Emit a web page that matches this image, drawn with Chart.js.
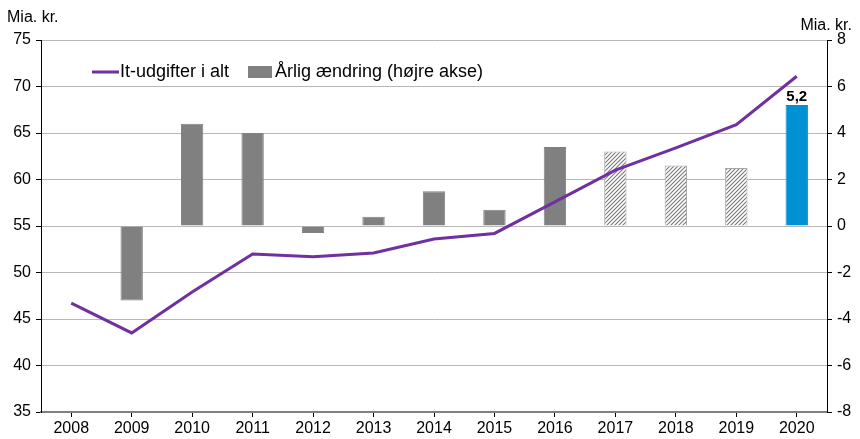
<!DOCTYPE html>
<html lang="da">
<head>
  <meta charset="UTF-8" />
  <title>It-udgifter</title>
  <script src="https://cdn.jsdelivr.net/npm/chart.js"></script>
  <style>
    html, body { margin: 0; padding: 0; background: #fff; }
    #wrap { width: 860px; height: 439px; position: relative; }
  </style>
</head>
<body>
  <div id="wrap"><canvas id="chart" width="860" height="439"></canvas></div>

  <script>
    // Data
    const years = ['2008', '2009', '2010', '2011', '2012', '2013', '2014', '2015', '2016', '2017', '2018', '2019', '2020'];
    const itTotal = [46.7, 43.5, 47.9, 52.0, 51.7, 52.1, 53.6, 54.2, 57.6, 61.0, 63.4, 65.9, 71.1];
    const yearlyChange = [null, -3.2, 4.4, 4.0, -0.3, 0.4, 1.5, 0.7, 3.4, 3.2, 2.6, 2.5, 5.2];
    const estimated = [false, false, false, false, false, false, false, false, false, true, true, true, false];
    const leftTicks = [35, 40, 45, 50, 55, 60, 65, 70, 75];
    const rightTicks = [-8, -6, -4, -2, 0, 2, 4, 6, 8];

    const FONT = 'Liberation Sans, Arial, sans-serif';

    // hatch pattern for the estimated years
    function hatch() {
      const c = document.createElement('canvas');
      c.width = 4; c.height = 4;
      const g = c.getContext('2d');
      g.fillStyle = '#fff';
      g.fillRect(0, 0, 4, 4);
      g.strokeStyle = '#7a7a7a';
      g.lineWidth = 1.1;
      g.beginPath();
      g.moveTo(-1, 5); g.lineTo(5, -1);
      g.moveTo(-1, 1); g.lineTo(1, -1);
      g.moveTo(3, 5); g.lineTo(5, 3);
      g.stroke();
      return g.createPattern(c, 'repeat');
    }
    const pat = hatch();

    const barColors = yearlyChange.map((v, i) => {
      if (i === years.length - 1) return '#0091d5';
      return estimated[i] ? pat : '#808080';
    });
    const barBorders = yearlyChange.map((v, i) => {
      if (i === years.length - 1) return '#0091d5';
      return estimated[i] ? '#a6a6a6' : '#808080';
    });

    const extras = {
      id: 'extras',
      afterDraw(chart) {
        const ctx = chart.ctx;
        ctx.save();
        ctx.fillStyle = '#000';
        ctx.font = '16px ' + FONT;
        ctx.textBaseline = 'middle';
        ctx.textAlign = 'left';
        ctx.fillText('Mia. kr.', 7, 18);
        ctx.textAlign = 'right';
        ctx.fillText('Mia. kr.', 852, 26);

        // legend
        ctx.strokeStyle = '#7030a0';
        ctx.lineWidth = 3;
        ctx.beginPath();
        ctx.moveTo(92, 72); ctx.lineTo(119, 72);
        ctx.stroke();
        ctx.font = '18px ' + FONT;
        ctx.textAlign = 'left';
        ctx.fillStyle = '#000';
        ctx.fillText('It-udgifter i alt', 120, 72);
        ctx.fillStyle = '#808080';
        ctx.fillRect(248, 66, 24, 12);
        ctx.fillStyle = '#000';
        ctx.fillText('Årlig ændring (højre akse)', 275, 72);

        // label on the last bar
        const meta = chart.getDatasetMeta(1);
        const last = meta.data[years.length - 1];
        ctx.font = 'bold 15px ' + FONT;
        ctx.textAlign = 'center';
        ctx.textBaseline = 'bottom';
        ctx.fillText(String(yearlyChange[years.length - 1]).replace('.', ','), last.x, last.y - 1);
        ctx.restore();
      }
    };

    new Chart(document.getElementById('chart'), {
      data: {
        labels: years,
        datasets: [
          {
            type: 'line',
            label: 'It-udgifter i alt',
            data: itTotal,
            yAxisID: 'y',
            borderColor: '#7030a0',
            borderWidth: 3,
            pointRadius: 0,
            tension: 0,
            order: 0
          },
          {
            type: 'bar',
            label: 'Årlig ændring (højre akse)',
            data: yearlyChange,
            yAxisID: 'y1',
            backgroundColor: barColors,
            borderColor: barBorders,
            borderWidth: 1,
            categoryPercentage: 1,
            barPercentage: 0.37,
            order: 1
          }
        ]
      },
      options: {
        responsive: false,
        animation: false,
        layout: { padding: { left: 0, right: 0, top: 40, bottom: 0 } },
        plugins: {
          legend: { display: false },
          tooltip: { enabled: false }
        },
        scales: {
          x: {
            offset: true,
            grid: { offset: false, drawOnChartArea: false, tickLength: 5, tickColor: '#000' },
            border: { color: '#808080', width: 2 },
            ticks: { color: '#000', font: { family: FONT, size: 16 }, padding: 2, maxRotation: 0 },
            afterFit: s => { s.height = 27; }
          },
          y: {
            position: 'left',
            min: 35, max: 75,
            afterBuildTicks: s => { s.ticks = leftTicks.map(v => ({ value: v })); },
            grid: { color: '#b8b8b8', tickColor: '#000', tickLength: 5 },
            border: { color: '#000', width: 1 },
            ticks: { color: '#000', font: { family: FONT, size: 16 }, padding: 5 },
            afterFit: s => { s.width = 41; }
          },
          y1: {
            position: 'right',
            min: -8, max: 8,
            afterBuildTicks: s => { s.ticks = rightTicks.map(v => ({ value: v })); },
            grid: { drawOnChartArea: false, tickColor: '#000', tickLength: 5 },
            border: { color: '#000', width: 1 },
            ticks: { color: '#000', font: { family: FONT, size: 16 }, padding: 5 },
            afterFit: s => { s.width = 33; }
          }
        }
      },
      plugins: [extras]
    });
  </script>
</body>
</html>
